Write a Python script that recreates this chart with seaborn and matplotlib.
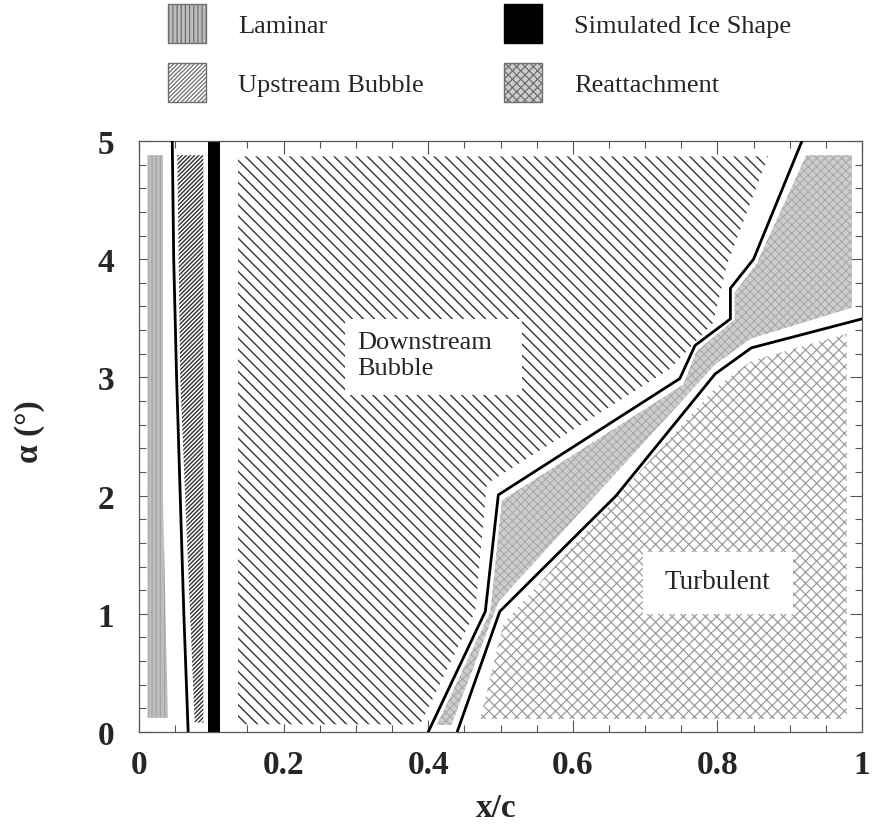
import numpy as np
import pandas as pd
import matplotlib
matplotlib.use("Agg")
import matplotlib.pyplot as plt
from matplotlib.patches import Patch, Rectangle
from matplotlib.ticker import MultipleLocator, FixedLocator, FixedFormatter
import seaborn as sns

# ---- flow-regime regions on the iced airfoil (x/c vs angle of attack) ----
laminar_x = [0.012, 0.033, 0.033, 0.040, 0.012]
laminar_y = [4.88, 4.88, 2.00, 0.12, 0.12]

upstream_x = [0.053, 0.089, 0.089, 0.077, 0.057]
upstream_y = [4.88, 4.88, 0.08, 0.08, 3.00]

ice_x = [0.096, 0.112]
ice_y = [0.0, 5.0]

downstream_x = [0.137, 0.870, 0.813, 0.794, 0.734, 0.481, 0.465, 0.389, 0.137]
downstream_y = [4.87, 4.87, 3.95, 3.46, 3.07, 2.10, 1.02, 0.065, 0.065]

reattach_x = [0.923, 0.986, 0.986, 0.847, 0.797, 0.497, 0.432, 0.412,
              0.486, 0.502, 0.753, 0.771, 0.824, 0.824, 0.854]
reattach_y = [4.88, 4.88, 3.59, 3.33, 3.11, 1.10, 0.06, 0.06,
              1.02, 1.96, 2.94, 3.22, 3.49, 3.72, 3.96]

turbulent_x = [0.472, 0.979, 0.979, 0.847, 0.797, 0.504]
turbulent_y = [0.11, 0.11, 3.37, 3.14, 2.91, 0.92]

# ---- measured boundaries ----
trans_x = [0.046, 0.048, 0.052, 0.057, 0.062, 0.068]
trans_y = [5.0, 4.0, 3.0, 2.0, 1.0, 0.0]

sep_x = [0.917, 0.850, 0.818, 0.818, 0.769, 0.748, 0.497, 0.479, 0.400]
sep_y = [5.00, 4.00, 3.754, 3.495, 3.27, 2.99, 2.006, 1.02, 0.0]

reatt_x = [1.000, 0.847, 0.797, 0.660, 0.499, 0.440]
reatt_y = [3.495, 3.25, 3.03, 2.00, 1.02, 0.0]

# ---- region labels ----
down_label_box = [0.285, 2.85, 0.245, 0.64]
turb_label_box = [0.697, 1.00, 0.208, 0.52]

x_ticks = [0, 0.2, 0.4, 0.6, 0.8, 1.0]
x_ticklabels = ["0", "0.2", "0.4", "0.6", "0.8", "1"]
y_ticks = [0, 1, 2, 3, 4, 5]

sns.set_theme(style="ticks")
plt.rcParams["font.family"] = ["Liberation Serif", "DejaVu Serif"]
plt.rcParams["hatch.linewidth"] = 0.9

fig = plt.figure(figsize=(8.75, 8.28), dpi=100)
ax = fig.add_axes([139 / 875, 1 - 733 / 828, 723 / 875, 591 / 828])

styles = {
    "Laminar": dict(facecolor="#bdbdbd", edgecolor="#a4a4a4", hatch="||||", hlw=0.8),
    "Upstream Bubble": dict(facecolor="white", edgecolor="#2e2e2e", hatch="/" * 8, hlw=1.0),
    "Simulated Ice Shape": dict(facecolor="black", edgecolor="black", hatch=None, hlw=1.0),
    "Reattachment": dict(facecolor="#cdcdcd", edgecolor="#a9a9a9", hatch="xxxx", hlw=0.8),
    "Downstream": dict(facecolor="white", edgecolor="#333333", hatch="\\" * 3, hlw=1.0),
    "Turbulent": dict(facecolor="white", edgecolor="#9c9c9c", hatch="xxx", hlw=0.9),
}


def set_hlw(artist, lw):
    if hasattr(artist, "set_hatch_linewidth"):
        artist.set_hatch_linewidth(lw)


def region(xs, ys, key, z=1):
    st = styles[key]
    for p in ax.fill(xs, ys, facecolor=st["facecolor"], edgecolor=st["edgecolor"],
                     hatch=st["hatch"], linewidth=0, zorder=z):
        set_hlw(p, st["hlw"])


region(laminar_x, laminar_y, "Laminar")
region(upstream_x, upstream_y, "Upstream Bubble")
region(downstream_x, downstream_y, "Downstream")
region(reattach_x, reattach_y, "Reattachment")
region(turbulent_x, turbulent_y, "Turbulent")
ax.fill_betweenx(ice_y, ice_x[0], ice_x[1], color="black", linewidth=0, zorder=2)

# white label backgrounds
for bx, by, bw, bh in (down_label_box, turb_label_box):
    ax.add_patch(Rectangle((bx, by), bw, bh, facecolor="white",
                           edgecolor="none", zorder=3))

ax.text(0.302, 3.19, "Downstream\nBubble", fontsize=19, ha="left",
        va="center", linespacing=1.25, zorder=4)
ax.text(0.7275, 1.27, "Turbulent", fontsize=19.5, ha="left", va="center",
        zorder=4)

# boundary lines
lines = pd.concat([
    pd.DataFrame({"x": trans_x, "y": trans_y, "b": "transition"}),
    pd.DataFrame({"x": sep_x, "y": sep_y, "b": "separation"}),
    pd.DataFrame({"x": reatt_x, "y": reatt_y, "b": "reattachment"}),
])
sns.lineplot(data=lines, x="x", y="y", units="b", estimator=None, sort=False,
             color="black", linewidth=2.0, ax=ax, zorder=5)

ax.set_xlim(0, 1)
ax.set_ylim(0, 5)
ax.xaxis.set_major_locator(FixedLocator(x_ticks))
ax.xaxis.set_major_formatter(FixedFormatter(x_ticklabels))
ax.xaxis.set_minor_locator(MultipleLocator(0.05))
ax.yaxis.set_major_locator(FixedLocator(y_ticks))
ax.yaxis.set_minor_locator(MultipleLocator(0.2))
ax.tick_params(which="both", direction="in", top=True, right=True,
               color="#555555", width=0.8)
ax.tick_params(which="major", length=9, labelsize=24)
ax.tick_params(which="minor", length=5)
ax.tick_params(axis="x", which="major", pad=12)
ax.tick_params(axis="y", which="major", pad=18)
for lab in ax.get_xticklabels() + ax.get_yticklabels():
    lab.set_fontweight("bold")
for sp in ax.spines.values():
    sp.set_color("#555555")
    sp.set_linewidth(0.9)

ax.set_xlabel("x/c", fontsize=24, fontweight="bold")
ax.set_ylabel("α (°)", fontsize=24, fontweight="bold")
ax.xaxis.set_label_coords(0.494, -0.102)
ax.yaxis.set_label_coords(-0.13, 0.51)

labels = ["Laminar", "Upstream Bubble", "Simulated Ice Shape", "Reattachment"]
handles = []
for name in labels:
    st = styles[name]
    h = Patch(facecolor=st["facecolor"],
              edgecolor="black" if name == "Simulated Ice Shape" else "#6f6f6f",
              hatch=st["hatch"], linewidth=1.0)
    set_hlw(h, st["hlw"])
    handles.append(h)
fig.legend(handles, labels, ncol=2, loc="upper left",
           bbox_to_anchor=(168 / 875, 1 - 5 / 828), frameon=False,
           borderpad=0, borderaxespad=0, handlelength=1.45, handleheight=1.9,
           handletextpad=1.2, columnspacing=3.05, labelspacing=0.75,
           fontsize=19)

fig.savefig("out.png", dpi=100)
